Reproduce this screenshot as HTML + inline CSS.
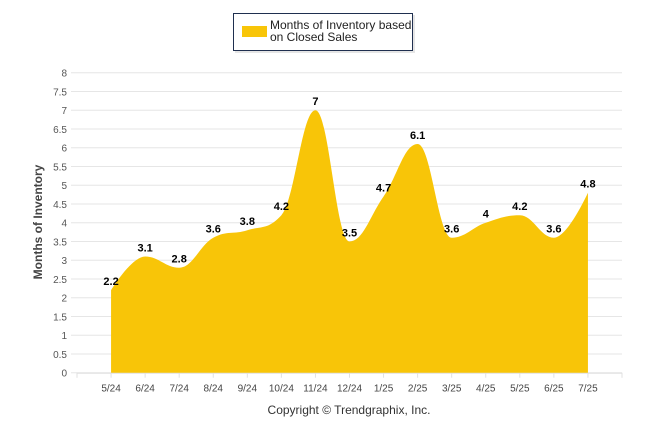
<!DOCTYPE html>
<html><head><meta charset="utf-8"><style>
body{margin:0;background:#fff;font-family:"Liberation Sans",Arial,sans-serif}
</style></head><body>
<svg width="646" height="434" xmlns="http://www.w3.org/2000/svg">
<g>
<rect x="235" y="15" width="180" height="38" fill="#ccc" opacity="0.5"/>
<rect x="233.5" y="13.5" width="179" height="37" fill="#fff" stroke="#1f2f4f" stroke-width="1"/>
<rect x="242" y="26" width="25" height="11" fill="#F8C508"/>
<text x="270" y="29" font-size="12" fill="#222">Months of Inventory based</text>
<text x="270" y="41" font-size="12" fill="#222">on Closed Sales</text>
</g>
<g id="grid"></g><g id="area"></g><g id="labels"></g>
<text x="42" y="222" transform="rotate(-90 42 222)" text-anchor="middle" font-size="12" font-weight="bold" fill="#444">Months of Inventory</text>
<text x="349" y="414" text-anchor="middle" font-size="12" fill="#333">Copyright © Trendgraphix, Inc.</text>
</svg>
<script>
const categories=["5/24","6/24","7/24","8/24","9/24","10/24","11/24","12/24","1/25","2/25","3/25","4/25","5/25","6/25","7/25"];
const values=[2.2,3.1,2.8,3.6,3.8,4.2,7,3.5,4.7,6.1,3.6,4,4.2,3.6,4.8];
const yTicks=[0,0.5,1,1.5,2,2.5,3,3.5,4,4.5,5,5.5,6,6.5,7,7.5,8];
const NS="http://www.w3.org/2000/svg";
const L=77,R=622,Y0=372.7,Y8=72.7;
const xs=i=>L+(i+1)*(R-L)/16;
const ys=v=>Y0+(Y8-Y0)*v/8;
function mk(t,a,p){const e=document.createElementNS(NS,t);for(const k in a)e.setAttribute(k,a[k]);(p||document.querySelector('svg')).appendChild(e);return e;}
const grid=document.getElementById('grid');
yTicks.forEach(v=>{
 const g=mk('line',{x1:71,x2:R,y1:ys(v),y2:ys(v),stroke:'#e6e6e6','stroke-width':1},grid);
 
 
 const t=mk('text',{x:67,y:ys(v)+4,'text-anchor':'end','font-size':10,fill:'#555'},grid);
 t.textContent=v;
 
 
});
const ax=mk('line',{x1:L,x2:R,y1:Y0+0.5,y2:Y0+0.5,stroke:'#e0e0e0'},grid);


for(let k=0;k<=16;k++){const tk=mk('line',{x1:L+k*(R-L)/16,x2:L+k*(R-L)/16,y1:Y0,y2:Y0+5,stroke:'#e0e0e0'},grid);
 
 }
categories.forEach((c,i)=>{const t=mk('text',{x:xs(i),y:Y0+19,'text-anchor':'middle','font-size':10,fill:'#444'},grid);
 t.textContent=c;
 
 });
// Highcharts-like spline
const P=values.map((v,i)=>[xs(i),ys(v)]);
let d=`M${P[0][0]},${P[0][1]}`;
const sm=1.5,den=sm+1;
function ctrl(i){ // returns [left, right] control points for point i
 const p=P[i],a=P[i-1],b=P[i+1];
 if(!a||!b)return [p,p];
 let lx=(sm*p[0]+a[0])/den,ly=(sm*p[1]+a[1])/den,rx=(sm*p[0]+b[0])/den,ry=(sm*p[1]+b[1])/den;
 const cr=Math.abs(rx-lx)<1e-9?0:(ry-ly)/(rx-lx)*(p[0]-lx)+ly-p[1];
 ly+=-cr;ry+=-cr; // shift through point
 ly-=0;
 // correct: move so line passes through point
 if(ly>p[1]&&ly>a[1]){ly=Math.max(p[1],a[1]);ry=2*p[1]-ly;}else if(ly<p[1]&&ly<a[1]){ly=Math.min(p[1],a[1]);ry=2*p[1]-ly;}
 if(ry>p[1]&&ry>b[1]){ry=Math.max(p[1],b[1]);ly=2*p[1]-ry;}else if(ry<p[1]&&ry<b[1]){ry=Math.min(p[1],b[1]);ly=2*p[1]-ry;}
 return [[lx,ly],[rx,ry]];
}
const C=P.map((_,i)=>ctrl(i));
for(let i=1;i<P.length;i++){d+=` C${C[i-1][1][0]},${C[i-1][1][1]} ${C[i][0][0]},${C[i][0][1]} ${P[i][0]},${P[i][1]}`;}
d+=` L${P[P.length-1][0]},${Y0} L${P[0][0]},${Y0} Z`;
const ar=mk('path',{d:d,fill:'#F8C508'},document.getElementById('area'));


values.forEach((v,i)=>{const t=mk('text',{x:xs(i),y:ys(v)-5,'text-anchor':'middle','font-size':11,'font-weight':'bold',fill:'#000'},document.getElementById('labels'));
 t.textContent=v;
 
 });
</script>
</body></html>
